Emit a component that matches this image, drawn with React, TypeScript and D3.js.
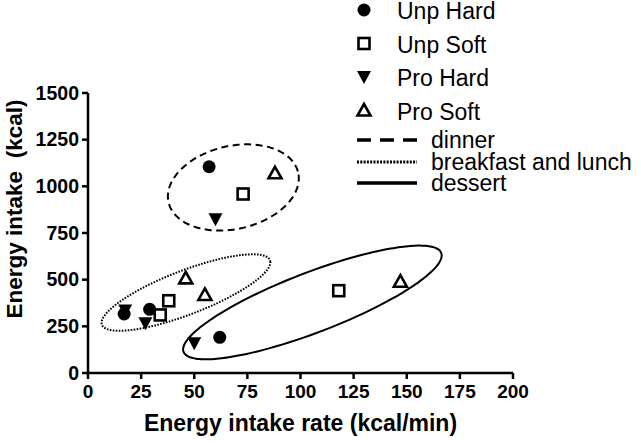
import React from "react";
import * as d3 from "d3";

const xTicks = [0, 25, 50, 75, 100, 125, 150, 175, 200];
const yTicks = [0, 250, 500, 750, 1000, 1250, 1500];

const seriesNames = ["Unp Hard", "Unp Soft", "Pro Hard", "Pro Soft"];
// order of points: breakfast, lunch, dinner, dessert
const unpHardX = [17, 29, 57, 62];
const unpHardY = [316, 341, 1105, 191];
const unpSoftX = [34, 38, 73, 118];
const unpSoftY = [311, 387, 959, 441];
const proHardX = [17.5, 27, 60, 50];
const proHardY = [335, 266, 823, 159];
const proSoftX = [46, 55, 88, 147];
const proSoftY = [507, 418, 1070, 489];

const mealNames = ["dinner", "breakfast and lunch", "dessert"];
const mealCenterX = [68.4, 46.1, 105.6];
const mealCenterY = [994, 431, 378];

// geometry of the ellipses (pixels / degrees)
const ellipseGeom = [
  { a: 66.5, b: 41.5, angle: -13, dash: "7,4.5", width: 2 },
  { a: 90, b: 22, angle: -21, dash: "1.6,1.4", width: 2 },
  { a: 138, b: 30, angle: -21, dash: "", width: 2 },
];
const legendLineStyles = [
  { dash: "14,9", width: 3.5 },
  { dash: "2,1.3", width: 3 },
  { dash: "", width: 3.5 },
];

const W = 641;
const H = 444;
const x = d3.scaleLinear().domain([0, 200]).range([88, 513]);
const y = d3.scaleLinear().domain([0, 1500]).range([373, 93]);

function marker(kind: number, cx: number, cy: number, key: string) {
  if (kind === 0) return <circle key={key} cx={cx} cy={cy} r={6.5} fill="#000" />;
  if (kind === 1)
    return (
      <rect key={key} x={cx - 5.5} y={cy - 5.5} width={11} height={11} fill="#fff" stroke="#000" strokeWidth={2.6} />
    );
  if (kind === 2) {
    const p = d3.path();
    p.moveTo(cx - 7, cy - 6);
    p.lineTo(cx + 7, cy - 6);
    p.lineTo(cx, cy + 7);
    p.closePath();
    return <path key={key} d={p.toString()} fill="#000" />;
  }
  const p = d3.path();
  p.moveTo(cx, cy - 6.5);
  p.lineTo(cx + 6.5, cy + 5);
  p.lineTo(cx - 6.5, cy + 5);
  p.closePath();
  return <path key={key} d={p.toString()} fill="#fff" stroke="#000" strokeWidth={2.6} strokeLinejoin="miter" />;
}

function ellipsePath(cx: number, cy: number, a: number, b: number, angleDeg: number) {
  const t = (angleDeg * Math.PI) / 180;
  const pts: [number, number][] = d3.range(0, 361, 3).map((deg) => {
    const u = (deg * Math.PI) / 180;
    const ex = a * Math.cos(u);
    const ey = b * Math.sin(u);
    return [cx + ex * Math.cos(t) - ey * Math.sin(t), cy + ex * Math.sin(t) + ey * Math.cos(t)];
  });
  return d3.line().curve(d3.curveCardinalClosed)(pts.slice(0, -1)) as string;
}

export default function App() {
  const data = [
    { xs: proHardX, ys: proHardY, kind: 2 },
    { xs: unpHardX, ys: unpHardY, kind: 0 },
    { xs: unpSoftX, ys: unpSoftY, kind: 1 },
    { xs: proSoftX, ys: proSoftY, kind: 3 },
  ];
  const font = "'Liberation Sans', Arial, Helvetica, sans-serif";
  return (
    <svg width={W} height={H} style={{ position: "absolute", left: 0, top: 0, background: "#fff" }} fontFamily={font}>
      {/* ellipses */}
      {mealNames.map((m, i) => (
        <path
          key={m}
          d={ellipsePath(x(mealCenterX[i]), y(mealCenterY[i]), ellipseGeom[i].a, ellipseGeom[i].b, ellipseGeom[i].angle)}
          fill="none"
          stroke="#000"
          strokeWidth={ellipseGeom[i].width}
          strokeDasharray={ellipseGeom[i].dash || undefined}
        />
      ))}
      {/* axes */}
      <line x1={x(0)} x2={x(200)} y1={y(0)} y2={y(0)} stroke="#000" strokeWidth={2.5} />
      <line x1={x(0)} x2={x(0)} y1={y(0)} y2={y(1500)} stroke="#000" strokeWidth={2.5} />
      {xTicks.map((t) => (
        <g key={"xt" + t}>
          <line x1={x(t)} x2={x(t)} y1={y(0)} y2={y(0) + 6} stroke="#000" strokeWidth={2.5} />
          <text x={x(t)} y={398} textAnchor="middle" fontSize={19} fontWeight="bold">
            {t}
          </text>
        </g>
      ))}
      {yTicks.map((t) => (
        <g key={"yt" + t}>
          <line x1={x(0) - 6} x2={x(0)} y1={y(t)} y2={y(t)} stroke="#000" strokeWidth={2.5} />
          <text x={79} y={y(t)} dy="0.35em" textAnchor="end" fontSize={19.5} fontWeight="bold">
            {t}
          </text>
        </g>
      ))}
      <text x={(x(0) + x(200)) / 2} y={431} textAnchor="middle" fontSize={23} fontWeight="bold">
        Energy intake rate (kcal/min)
      </text>
      <text
        transform={`translate(22,209) rotate(-90)`}
        textAnchor="middle"
        fontSize={22.5}
        fontWeight="bold"
        style={{ whiteSpace: "pre" }}
      >
        {"Energy intake  (kcal)"}
      </text>
      {/* points */}
      {data.map((s, si) => s.xs.map((v, i) => marker(s.kind, x(v), y(s.ys[i]), `p${si}-${i}`)))}
      {/* legend */}
      {seriesNames.map((n, i) => {
        const kinds = [0, 1, 2, 3];
        const ly = 10 + i * 33.5;
        return (
          <g key={n}>
            {marker(kinds[i], 364, ly, "lm" + i)}
            <text x={397} y={ly + 1} dy="0.35em" fontSize={23}>
              {n}
            </text>
          </g>
        );
      })}
      {mealNames.map((m, i) => {
        const ly = [140, 162, 183][i];
        return (
          <g key={"ll" + m}>
            <line
              x1={357}
              x2={417}
              y1={ly}
              y2={ly}
              stroke="#000"
              strokeWidth={legendLineStyles[i].width}
              strokeDasharray={legendLineStyles[i].dash || undefined}
            />
            <text x={431} y={ly} dy="0.33em" fontSize={23}>
              {m}
            </text>
          </g>
        );
      })}
    </svg>
  );
}
